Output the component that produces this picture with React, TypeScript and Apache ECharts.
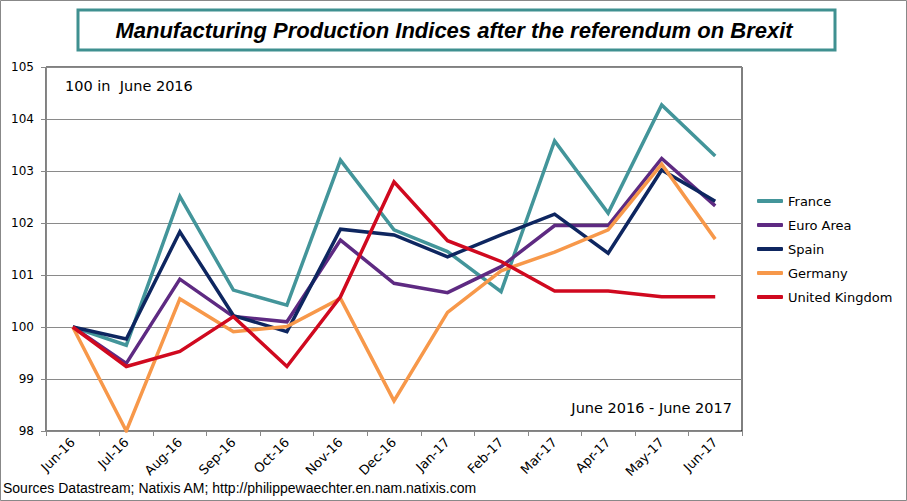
import React, { useEffect, useRef } from "react";
import * as echarts from "echarts";

const months = ["Jun-16", "Jul-16", "Aug-16", "Sep-16", "Oct-16", "Nov-16", "Dec-16", "Jan-17", "Feb-17", "Mar-17", "Apr-17", "May-17", "Jun-17"];
const france = [100, 99.65, 102.51, 100.71, 100.42, 103.21, 101.87, 101.45, 100.68, 103.58, 102.19, 104.27, 103.29];
const euroArea = [100, 99.3, 100.92, 100.2, 100.1, 101.67, 100.84, 100.66, 101.16, 101.95, 101.95, 103.24, 102.33];
const spain = [100, 99.77, 101.83, 100.22, 99.91, 101.88, 101.77, 101.35, 101.77, 102.17, 101.42, 103.02, 102.42];
const germany = [100, 98.0, 100.54, 99.91, 100.01, 100.55, 98.58, 100.28, 101.08, 101.44, 101.87, 103.13, 101.69];
const uk = [100, 99.24, 99.53, 100.2, 99.24, 100.58, 102.79, 101.66, 101.26, 100.69, 100.69, 100.58, 100.58];

const seriesDefs = [
  { name: "France", data: france, color: "#43959A" },
  { name: "Euro Area", data: euroArea, color: "#5E2A82" },
  { name: "Spain", data: spain, color: "#0E2660" },
  { name: "Germany", data: germany, color: "#F7984A" },
  { name: "United Kingdom", data: uk, color: "#D0091F" },
];

const FONT = "DejaVu Sans";

export default function App() {
  const ref = useRef<HTMLDivElement>(null);
  useEffect(() => {
    document.body.style.margin = "0";
    const chart = echarts.init(ref.current!, undefined, { renderer: "svg" });
    chart.setOption({
      animation: false,
      backgroundColor: "#fff",
      grid: {
        left: 46,
        right: 165,
        top: 67,
        bottom: 70,
        show: true,
        borderColor: "#000",
        borderWidth: 1,
        backgroundColor: "transparent",
      },
      xAxis: {
        type: "category",
        data: months,
        boundaryGap: true,
        axisLine: { lineStyle: { color: "#888", width: 1 } },
        axisTick: { show: true, length: 5, inside: false, lineStyle: { color: "#888" } },
        axisLabel: { rotate: 45, fontSize: 13, fontFamily: FONT, color: "#000", margin: 9, interval: 0 },
        splitLine: { show: false },
      },
      yAxis: {
        type: "value",
        min: 98,
        max: 105,
        interval: 1,
        axisLine: { show: true, lineStyle: { color: "#888", width: 1 } },
        axisTick: { show: true, length: 5, lineStyle: { color: "#888" } },
        axisLabel: { fontSize: 12, fontFamily: FONT, color: "#000", margin: 12 },
        splitLine: { show: true, lineStyle: { color: "#8a8a8a", width: 1 } },
      },
      legend: {
        orient: "vertical",
        left: 752,
        top: 188,
        itemWidth: 26,
        itemHeight: 4,
        itemGap: 8,
        icon: "roundRect",
        textStyle: { fontSize: 13, fontFamily: FONT, color: "#000", lineHeight: 16 },
        data: seriesDefs.map((s) => s.name),
      },
      series: seriesDefs.map((s) => ({
        name: s.name,
        type: "line",
        data: s.data,
        showSymbol: false,
        symbol: "none",
        color: s.color,
        lineStyle: { width: 3.5, color: s.color, join: "miter" },
      })),
      graphic: [
        {
          type: "rect",
          shape: { x: 0.5, y: 0.5, width: 906, height: 500 },
          style: { fill: "none", stroke: "#888", lineWidth: 1 },
          silent: true,
        },
        {
          type: "rect",
          shape: { x: 78, y: 10, width: 757, height: 40 },
          style: { fill: "#fff", stroke: "#3F9090", lineWidth: 3 },
        },
        {
          type: "text",
          x: 454,
          y: 30,
          style: {
            text: "Manufacturing Production Indices after the referendum on Brexit",
            font: "italic bold 22px 'Liberation Sans'",
            fill: "#000",
            textAlign: "center",
            textVerticalAlign: "middle",
          },
        },
        {
          type: "text",
          x: 65,
          y: 86,
          style: {
            text: "100 in  June 2016",
            font: "14.5px 'DejaVu Sans'",
            fill: "#000",
            textAlign: "left",
            textVerticalAlign: "middle",
          },
        },
        {
          type: "text",
          x: 732,
          y: 408,
          style: {
            text: "June 2016 - June 2017",
            font: "14.5px 'DejaVu Sans'",
            fill: "#000",
            textAlign: "right",
            textVerticalAlign: "middle",
          },
        },
        {
          type: "text",
          x: 3,
          y: 488,
          style: {
            text: "Sources Datastream; Natixis AM; http://philippewaechter.en.nam.natixis.com",
            font: "14px 'Liberation Sans'",
            fill: "#000",
            textAlign: "left",
            textVerticalAlign: "middle",
          },
        },
      ],
    });
    return () => chart.dispose();
  }, []);
  return <div ref={ref} style={{ width: 907, height: 501 }} />;
}
